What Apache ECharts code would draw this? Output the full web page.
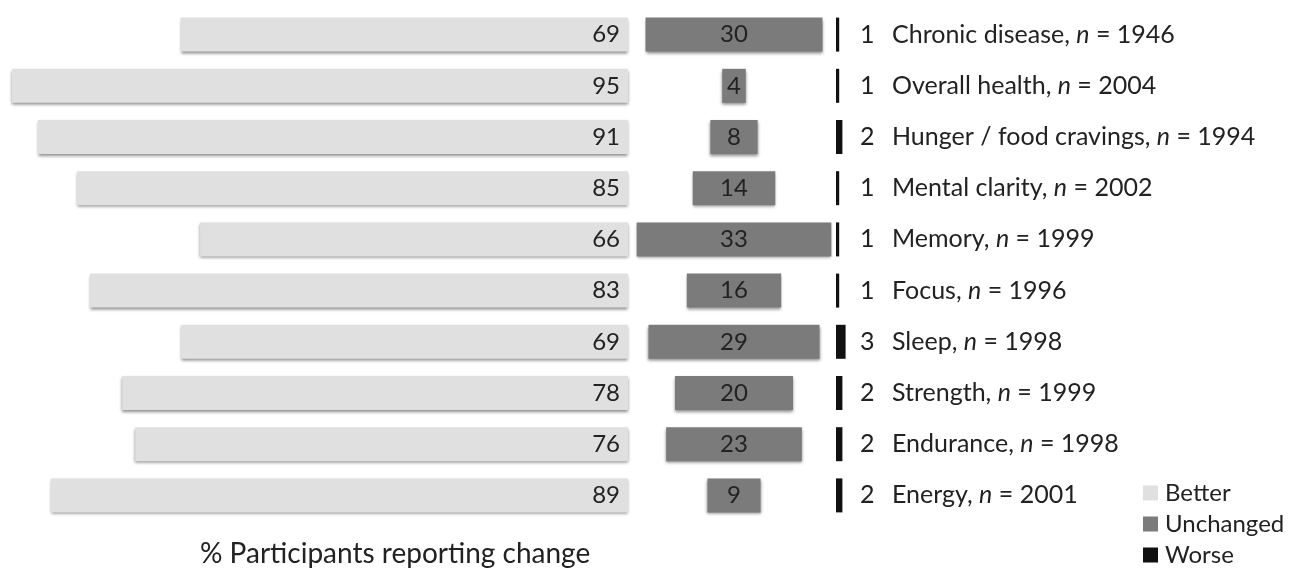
<!DOCTYPE html>
<html>
<head>
<meta charset="utf-8">
<script src="https://cdn.jsdelivr.net/npm/echarts@6/dist/echarts.min.js"></script>
<style>
  html, body { margin: 0; padding: 0; background: #fff; }
  #chart { width: 1294px; height: 568px; }
</style>
</head>
<body>
<div id="chart"></div>
<script>
var categories = ['Chronic disease', 'Overall health', 'Hunger / food cravings', 'Mental clarity',
    'Memory', 'Focus', 'Sleep', 'Strength', 'Endurance', 'Energy'];
var nCounts = [1946, 2004, 1994, 2002, 1999, 1996, 1998, 1999, 1998, 2001];
var better = [69, 95, 91, 85, 66, 83, 69, 78, 76, 89];
var unchanged = [30, 4, 8, 14, 33, 16, 29, 20, 23, 9];
var worse = [1, 1, 2, 1, 1, 1, 3, 2, 2, 2];

var FONT = 'Lato';
var midMax = 40;
// invisible spacer so the unchanged bars sit centred in their panel
var spacer = unchanged.map(function (v) { return (midMax - v) / 2; });

var shadow = { shadowColor: 'rgba(0,0,0,0.45)', shadowBlur: 3, shadowOffsetY: 2 };

var chart = echarts.init(document.getElementById('chart'));
var option = {
    animation: false,
    textStyle: { fontFamily: FONT },
    title: {
        text: '% Participants reporting change',
        left: 195, top: 535,
        textStyle: { fontFamily: FONT, fontSize: 28, fontWeight: 'normal', color: '#222' }
    },
    legend: {
        orient: 'vertical', left: 1143, top: 481, padding: 0,
        data: ['Better', 'Unchanged', 'Worse'],
        icon: 'rect', itemWidth: 15, itemHeight: 15, itemGap: 7,
        textStyle: { fontFamily: FONT, fontSize: 24, color: '#222', padding: [0, 0, 0, 2] }
    },
    grid: [
        { left: 12, width: 616, top: 9, height: 512 },
        { left: 616, width: 236, top: 9, height: 512 },
        { left: 836, width: 24, top: 9, height: 512 }
    ],
    xAxis: [
        { gridIndex: 0, type: 'value', min: 0, max: 95, inverse: true, show: false },
        { gridIndex: 1, type: 'value', min: 0, max: midMax, show: false },
        { gridIndex: 2, type: 'value', min: 0, max: 7.5, show: false }
    ],
    yAxis: [
        { gridIndex: 0, type: 'category', data: categories, inverse: true, show: false },
        { gridIndex: 1, type: 'category', data: categories, inverse: true, show: false },
        {
            gridIndex: 2, type: 'category', data: categories, inverse: true, position: 'right',
            axisLine: { show: false }, axisTick: { show: false }, splitLine: { show: false },
            axisLabel: {
                margin: 0, align: 'left',
                formatter: function (name, i) {
                    return '{v|' + worse[i] + '}{t|' + name + ', }{i|n}{t| = ' + nCounts[i] + '}';
                },
                rich: {
                    v: { fontFamily: FONT, fontSize: 25, color: '#222', width: 32 },
                    t: { fontFamily: FONT, fontSize: 25, color: '#222' },
                    i: { fontFamily: FONT, fontSize: 25, color: '#222', fontStyle: 'italic' }
                }
            }
        }
    ],
    series: [
        {
            name: 'Better', type: 'bar', xAxisIndex: 0, yAxisIndex: 0, data: better,
            barWidth: 34, itemStyle: Object.assign({ color: '#e0e0e0' }, shadow),
            label: { show: true, position: 'insideRight', distance: 8, fontFamily: FONT, fontSize: 24, color: '#222' }
        },
        {
            name: 'spacer', type: 'bar', xAxisIndex: 1, yAxisIndex: 1, stack: 'mid', data: spacer,
            barWidth: 34, itemStyle: { color: 'transparent' }, silent: true
        },
        {
            name: 'Unchanged', type: 'bar', xAxisIndex: 1, yAxisIndex: 1, stack: 'mid', data: unchanged,
            barWidth: 34, itemStyle: Object.assign({ color: '#7b7b7b' }, shadow),
            label: { show: true, position: 'inside', fontFamily: FONT, fontSize: 24, color: '#222' }
        },
        {
            name: 'Worse', type: 'bar', xAxisIndex: 2, yAxisIndex: 2, data: worse,
            barWidth: 34, itemStyle: { color: '#111' }
        }
    ]
};
chart.setOption(option);
</script>
</body>
</html>
